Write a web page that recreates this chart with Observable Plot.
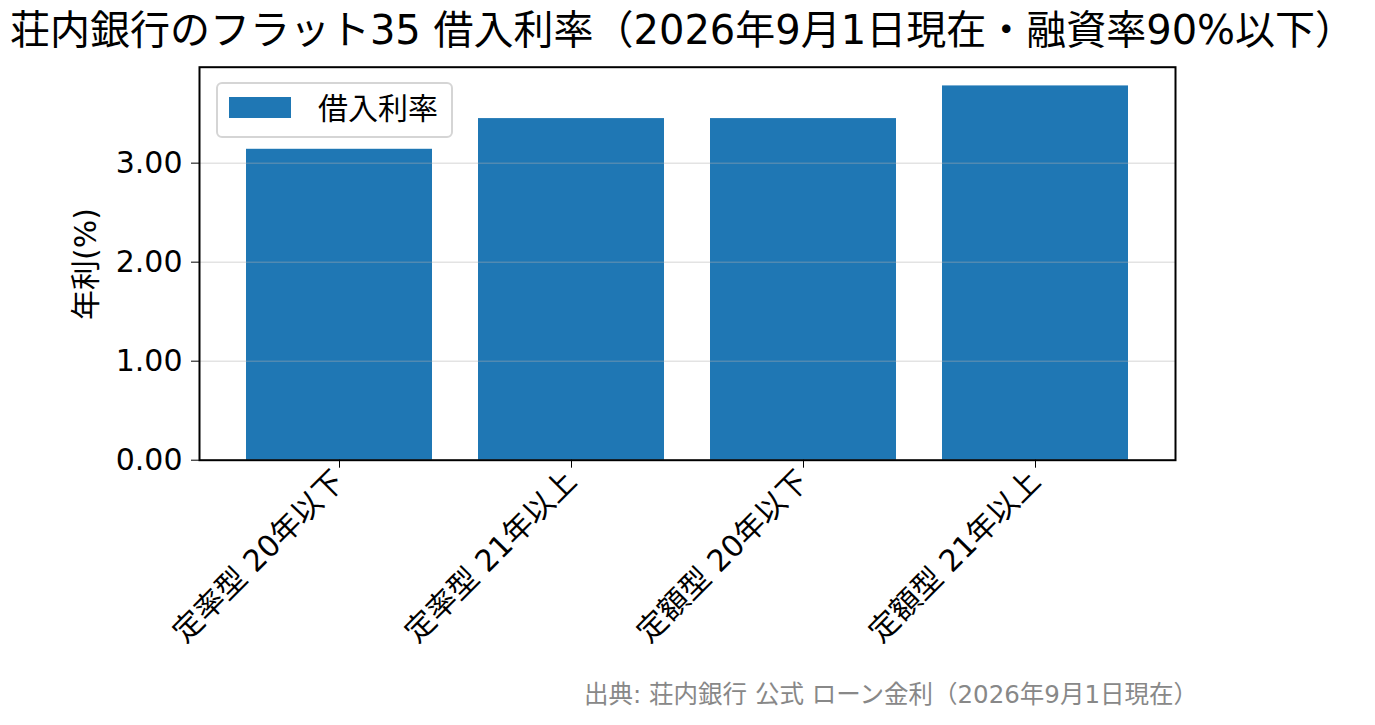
<!DOCTYPE html>
<html><head><meta charset="utf-8">
<script src="https://cdn.jsdelivr.net/npm/d3@7"></script>
<script src="https://cdn.jsdelivr.net/npm/@observablehq/plot@0.6"></script>
<style>
body{margin:0;background:#fff;width:1375px;height:725px;overflow:hidden;position:relative;font-family:"DejaVu Sans","Noto Sans CJK JP",sans-serif;}
#title{height:58px;width:1375px;text-align:center;font-size:40px;line-height:61px;color:#000;white-space:nowrap;box-sizing:border-box;padding-right:10px;}
#caption{position:absolute;top:679px;left:0;width:1198px;text-align:right;font-size:24.5px;line-height:32px;color:#888;white-space:nowrap;}
</style></head><body>
<div id="title">荘内銀行のフラット35 借入利率（2026年9月1日現在・融資率90%以下）</div>
<div id="chart"></div>
<div id="caption">出典: 荘内銀行 公式 ローン金利（2026年9月1日現在）</div>
<script>
const categories = ["定率型 20年以下", "定率型 21年以上", "定額型 20年以下", "定額型 21年以上"];
const rates = [3.14, 3.45, 3.45, 3.78];
const yTicks = [0, 1, 2, 3];
const seriesName = "借入利率";
const yLabel = "年利(%)";
const barColor = "#1f77b4";

const data = categories.map((c, i) => ({category: c, rate: rates[i]}));
const FONT = '"DejaVu Sans", "Noto Sans CJK JP", sans-serif';

const chart = Plot.plot({
  width: 1375,
  height: 620,
  marginTop: 8.7,
  marginBottom: 218.3,
  marginLeft: 199,
  marginRight: 200,
  style: {fontFamily: FONT, fontSize: "30px", color: "#000", background: "#fff", overflow: "visible"},
  x: {type: "band", domain: categories, paddingInner: 0.2, paddingOuter: 0.195, label: null},
  y: {domain: [0, d3.max(rates) * 1.05], label: null},
  marks: [
    Plot.barY(data, {x: "category", y: "rate", fill: barColor}),
    Plot.ruleY(yTicks.filter(d => d > 0), {stroke: "#b0b0b0", strokeOpacity: 0.35, strokeWidth: 1.5}),
    Plot.axisY({ticks: yTicks, tickFormat: d3.format(".2f"), tickSize: 8, tickPadding: 9, label: null, fontSize: 30}),
    Plot.axisX({tickRotate: -45, tickSize: 8, tickPadding: 8, label: null, fontSize: 30}),
    Plot.frame({stroke: "#000", strokeWidth: 2})
  ]
});
document.getElementById("chart").appendChild(chart);

const svg = d3.select(chart);
// y label
svg.append("text")
  .attr("transform", "translate(85,206) rotate(-90)")
  .attr("text-anchor", "middle")
  .attr("dominant-baseline", "central")
  .style("font-family", FONT).style("font-size", "30px").attr("fill", "#000")
  .text(yLabel);
// legend (page y minus title height 58)
const lg = svg.append("g").attr("transform", "translate(217,25)");
lg.append("rect").attr("width", 235).attr("height", 54).attr("rx", 5)
  .attr("fill", "#fff").attr("fill-opacity", 0.8).attr("stroke", "#d5d5d5").attr("stroke-width", 2);
lg.append("rect").attr("x", 12).attr("y", 14).attr("width", 62).attr("height", 21).attr("fill", barColor);
lg.append("text").attr("x", 101).attr("y", 25).attr("text-anchor", "start").attr("dominant-baseline", "central")
  .style("font-family", FONT).style("font-size", "30px").attr("fill", "#000").text(seriesName);
</script>
</body></html>
